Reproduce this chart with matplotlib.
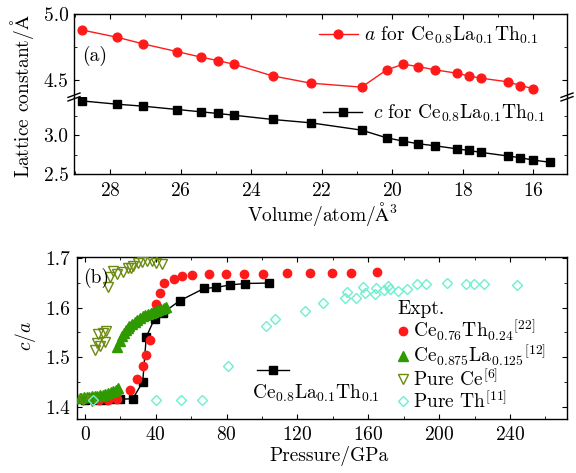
import matplotlib
matplotlib.use("Agg")
import matplotlib.pyplot as plt
from matplotlib.ticker import FixedLocator, FormatStrFormatter
from matplotlib.lines import Line2D

FS = 14
plt.rcParams.update({
    "font.family": "serif",
    "font.serif": ["cmr10"],
    "mathtext.fontset": "cm",
    "axes.formatter.use_mathtext": True,
    "font.size": FS,
    "axes.linewidth": 1.0,
    "xtick.direction": "in",
    "ytick.direction": "in",
    "xtick.major.size": 3.6,
    "ytick.major.size": 3.6,
    "xtick.minor.size": 2.2,
    "ytick.minor.size": 2.2,
})

# ---- (a) lattice constants of Ce0.8La0.1Th0.1 versus volume ----
volume_a = [28.80, 27.79, 27.06, 26.09, 25.41, 24.94, 24.49, 23.39, 22.31, 20.87,
            20.16, 19.69, 19.27, 18.79, 18.18, 17.84, 17.49, 16.72, 16.37, 16.01]
a_const = [4.879, 4.823, 4.773, 4.714, 4.672, 4.646, 4.619, 4.530, 4.475, 4.445,
           4.576, 4.619, 4.601, 4.576, 4.551, 4.530, 4.513, 4.485, 4.457, 4.434]
volume_c = [28.80, 27.79, 27.06, 26.09, 25.41, 24.94, 24.49, 23.39, 22.31, 20.87,
            20.16, 19.69, 19.27, 18.79, 18.18, 17.84, 17.49, 16.72, 16.37, 16.01, 15.52]
c_const = [3.440, 3.397, 3.372, 3.329, 3.299, 3.278, 3.256, 3.201, 3.158, 3.064,
           2.965, 2.923, 2.889, 2.863, 2.824, 2.803, 2.778, 2.731, 2.709, 2.679, 2.650]

# ---- (b) c/a versus pressure ----
calc_p = [0.0, 6.0, 11.0, 15.0, 20.0, 27.0, 32.6, 34.6, 39.3, 43.8, 53.4, 67.2, 74.0, 81.7, 90.2, 104.1]
calc_ca = [1.413, 1.413, 1.414, 1.415, 1.415, 1.416, 1.450, 1.541, 1.578, 1.589, 1.614, 1.639, 1.641, 1.646, 1.649, 1.650]

ceth_p = [8.0, 13.0, 18.0, 25.2, 29.5, 32.6, 34.6, 36.5, 40.2, 42.3, 44.8, 50.0, 54.5, 60.2,
          70.1, 79.5, 90.0, 100.7, 114.0, 126.8, 139.3, 150.0, 164.7]
ceth_ca = [1.413, 1.414, 1.416, 1.433, 1.456, 1.483, 1.504, 1.535, 1.608, 1.629, 1.650, 1.659, 1.664, 1.666,
           1.668, 1.668, 1.668, 1.669, 1.670, 1.671, 1.671, 1.671, 1.672]

cela_p = [-3.0, -2.0, -0.5, 1.0, 2.5, 4.0, 5.5, 7.0, 8.5, 10.0, 11.5, 13.0, 14.5, 16.0, 17.5, 18.6,
          18.0, 19.5, 21.0, 22.0, 23.0, 24.0, 25.0, 26.5, 28.0, 29.5, 31.0, 32.5, 34.0, 35.5,
          37.0, 38.5, 40.0, 41.5, 43.0, 44.5, 45.5]
cela_ca = [1.417, 1.418, 1.419, 1.419, 1.420, 1.421, 1.422, 1.422, 1.423, 1.424, 1.425, 1.427, 1.429, 1.431, 1.434, 1.438,
           1.521, 1.533, 1.542, 1.549, 1.554, 1.559, 1.563, 1.568, 1.572, 1.576, 1.580, 1.583, 1.586, 1.588,
           1.590, 1.592, 1.594, 1.596, 1.598, 1.600, 1.602]

ce_p = [-1.0, 4.0, 5.6, 7.0, 7.5, 8.5, 10.2, 11.3, 11.9, 13.2, 14.1, 15.8, 18.2, 21.5, 24.4, 26.1,
        27.3, 29.9, 32.0, 34.8, 37.7, 40.0, 43.5]
ce_ca = [1.413, 1.412, 1.515, 1.528, 1.547, 1.523, 1.548, 1.531, 1.552, 1.642, 1.662, 1.675, 1.668, 1.672,
         1.680, 1.680, 1.684, 1.690, 1.692, 1.695, 1.695, 1.690, 1.688]

th_p = [4.3, 40.0, 54.0, 66.0, 80.6, 102.0, 107.2, 124.4, 134.4, 146.8, 147.8, 152.8, 157.0, 158.1,
        163.5, 164.5, 169.0, 171.0, 172.2, 176.7, 181.8, 187.6, 192.4, 204.4, 215.3, 219.8, 225.1, 244.1]
th_ca = [1.4135, 1.4135, 1.4135, 1.4135, 1.483, 1.563, 1.577, 1.594, 1.610, 1.619, 1.631, 1.620, 1.641, 1.629,
         1.628, 1.639, 1.636, 1.644, 1.637, 1.634, 1.637, 1.649, 1.649, 1.650, 1.649, 1.648, 1.649, 1.645]

W, H = 576, 473
fig = plt.figure(figsize=(W / 100, H / 100), dpi=100)


def frac_axes(x0, x1, y0, y1):
    """Axes rectangle given pixel edges (y measured from the top)."""
    return fig.add_axes([x0 / W, 1 - y1 / H, (x1 - x0) / W, (y1 - y0) / H])


RED = "#ff1a1a"
GREEN = "#2f9a00"
OLIVE = "#6b8a10"
CYAN = "#6cf0cf"

# ---------------- panel (a): broken y axis ----------------
ax_up = frac_axes(74, 567, 14, 97)
ax_lo = frac_axes(74, 567, 97, 174)

ax_up.plot(volume_a, a_const, "-o", color=RED, lw=1.0, ms=6.3,
           label=r"$a$ for Ce$_{0.8}$La$_{0.1}$Th$_{0.1}$")
ax_lo.plot(volume_c, c_const, "-s", color="black", lw=1.0, ms=5.3,
           label=r"$c$ for Ce$_{0.8}$La$_{0.1}$Th$_{0.1}$")

for ax in (ax_up, ax_lo):
    ax.set_xlim(29.02, 15.05)
    ax.xaxis.set_major_locator(FixedLocator([28, 26, 24, 22, 20, 18, 16]))
    ax.xaxis.set_minor_locator(FixedLocator([29, 27, 25, 23, 21, 19, 17, 15]))
    ax.yaxis.set_major_formatter(FormatStrFormatter("%.1f"))
    ax.tick_params(which="both", left=True, right=True)
    ax.tick_params(axis="y", pad=4)

ax_up.set_ylim(4.37, 5.0)
ax_up.yaxis.set_major_locator(FixedLocator([4.5, 5.0]))
ax_up.yaxis.set_minor_locator(FixedLocator([4.75]))
ax_up.spines["bottom"].set_visible(False)
ax_up.tick_params(which="both", top=True, bottom=False, labelbottom=False)

ax_lo.set_ylim(2.5, 3.49)
ax_lo.yaxis.set_major_locator(FixedLocator([2.5, 3.0]))
ax_lo.yaxis.set_minor_locator(FixedLocator([2.75, 3.25]))
ax_lo.spines["top"].set_visible(False)
ax_lo.tick_params(which="both", top=False, bottom=True)
ax_lo.tick_params(axis="x", pad=6)

# break marks on both vertical spines
for xs in (74, 567):
    for dy in (-1.8, 1.8):
        fig.add_artist(Line2D([(xs - 6) / W, (xs + 6) / W],
                              [1 - (97 + dy + 2.2) / H, 1 - (97 + dy - 2.2) / H],
                              color="black", lw=1.0))

ax_up.text(0.016, 0.49, "(a)", transform=ax_up.transAxes, ha="left", va="center")
ax_up.legend(loc="center left", bbox_to_anchor=(0.497, 0.739), frameon=False,
             borderpad=0, borderaxespad=0, handlelength=2.0, handletextpad=0.3)
ax_lo.legend(loc="center left", bbox_to_anchor=(0.506, 0.788), frameon=False,
             borderpad=0, borderaxespad=0, handlelength=2.0, handletextpad=0.55)

fig.text(22 / W, 1 - 96 / H, r"Lattice constant/$\mathrm{\AA}$", rotation=90,
         ha="center", va="center")
fig.text(323 / W, 1 - 214 / H, r"Volume/atom/$\mathrm{\AA}^3$", ha="center", va="center")

# ---------------- panel (b) ----------------
axb = frac_axes(77.3, 567, 257.3, 419)

calc_line, = axb.plot(calc_p, calc_ca, "-s", color="black", lw=1.0, ms=5.2)
axb.plot(cela_p, cela_ca, "^", ls="none", color=GREEN, ms=6.5, mec=GREEN,
         label=r"Ce$_{0.875}$La$_{0.125}$$^{[12]}$", zorder=3)
axb.plot(ce_p, ce_ca, "v", ls="none", mfc="none", mec=OLIVE, mew=1.0, ms=7,
         label=r"Pure Ce$^{[6]}$", zorder=3)
axb.plot(ceth_p, ceth_ca, "o", ls="none", color=RED, ms=6.0,
         label=r"Ce$_{0.76}$Th$_{0.24}$$^{[22]}$", zorder=2)
axb.plot(th_p, th_ca, "D", ls="none", mfc="none", mec=CYAN, mew=1.0, ms=5.5,
         label=r"Pure Th$^{[11]}$", zorder=4)

axb.set_xlim(-4.35, 272.2)
axb.set_ylim(1.375, 1.702)
axb.xaxis.set_major_locator(FixedLocator([0, 40, 80, 120, 160, 200, 240]))
axb.xaxis.set_minor_locator(FixedLocator([20, 60, 100, 140, 180, 220, 260]))
axb.yaxis.set_major_locator(FixedLocator([1.4, 1.5, 1.6, 1.7]))
axb.yaxis.set_minor_locator(FixedLocator([1.45, 1.55, 1.65]))
axb.yaxis.set_major_formatter(FormatStrFormatter("%.1f"))
axb.tick_params(which="both", top=True, right=True)
axb.tick_params(axis="y", pad=5)
axb.tick_params(axis="x", pad=5)

handles, labels = axb.get_legend_handles_labels()
order = [labels.index(l) for l in (r"Ce$_{0.76}$Th$_{0.24}$$^{[22]}$",
                                   r"Ce$_{0.875}$La$_{0.125}$$^{[12]}$",
                                   r"Pure Ce$^{[6]}$", r"Pure Th$^{[11]}$")]
leg_expt = axb.legend([handles[i] for i in order], [labels[i] for i in order],
                      title="Expt.", alignment="left", loc="upper left",
                      bbox_to_anchor=(0.653, 0.737), frameon=False, borderpad=0,
                      borderaxespad=0, handlelength=0.6, handletextpad=0.2,
                      labelspacing=0.0, title_fontsize=FS)
axb.add_artist(leg_expt)

axb.legend([calc_line], [" "], loc="center left", bbox_to_anchor=(0.367, 0.289),
           frameon=False, borderpad=0, borderaxespad=0, handlelength=1.65)
axb.text(0.356, 0.128, r"Ce$_{0.8}$La$_{0.1}$Th$_{0.1}$", transform=axb.transAxes,
         ha="left", va="baseline")

axb.text(0.012, 0.872, "(b)", transform=axb.transAxes, ha="left", va="center")

fig.text(25 / W, 1 - 336 / H, r"$c/a$", rotation=90, ha="center", va="center")
fig.text(329 / W, 1 - 456 / H, "Pressure/GPa", ha="center", va="center")

fig.savefig("out.png", dpi=100)
